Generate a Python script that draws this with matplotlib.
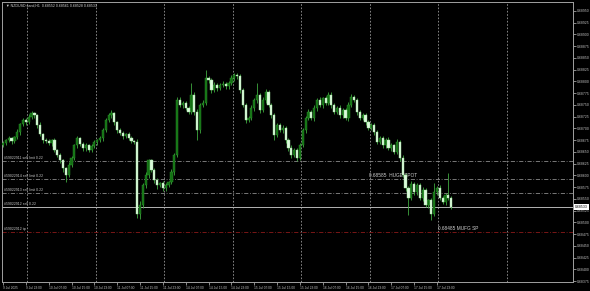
import numpy as np
import matplotlib
matplotlib.use("Agg")
import matplotlib.pyplot as plt

plt.rcParams['font.family'] = ['Liberation Sans', 'DejaVu Sans']

title = "\u25bc NZDUSD.sand,H1  0.68552 0.68561 0.68528 0.68533"

# H1 closes in points (1e-5)
first_open = 68665
close_pts = [
    68669, 68675, 68679, 68673, 68681, 68692, 68709, 68718, 68713, 68724,
    68732, 68728, 68707, 68688, 68675, 68673, 68669, 68675, 68654, 68643,
    68632, 68615, 68601, 68622, 68637, 68664, 68679, 68667, 68658, 68664,
    68654, 68662, 68671, 68675, 68679, 68696, 68718, 68728, 68732, 68713,
    68696, 68690, 68684, 68688, 68679, 68673, 68671, 68518, 68537, 68579,
    68601, 68632, 68611, 68590, 68579, 68584, 68573, 68579, 68586, 68607,
    68643, 68760, 68750, 68754, 68743, 68735, 68771, 68735, 68696, 68750,
    68754, 68807, 68803, 68781, 68792, 68786, 68792, 68794, 68790, 68796,
    68807, 68813, 68811, 68781, 68750, 68718, 68722, 68743, 68760, 68771,
    68739, 68760, 68777, 68750, 68728, 68686, 68707, 68696, 68701, 68675,
    68658, 68643, 68654, 68637, 68664, 68696, 68722, 68735, 68722, 68743,
    68760, 68750, 68764, 68754, 68771, 68750, 68735, 68743, 68728, 68739,
    68722, 68750, 68767, 68760, 68735, 68722, 68728, 68713, 68701, 68707,
    68692, 68671, 68679, 68664, 68675, 68658, 68664, 68650, 68671, 68637,
    68601, 68573, 68552, 68581, 68564, 68579, 68552, 68569, 68537, 68547,
    68518, 68564, 68573, 68552, 68543, 68558, 68552, 68533,
]
# wick lengths above / below the body, points
up_wick = [
    4, 3, 5, 3, 4, 6, 3, 5, 4, 6,
    5, 4, 3, 6, 3, 4, 5, 3, 4, 3,
    5, 3, 4, 6, 5, 4, 5, 3, 4, 5,
    3, 4, 5, 3, 6, 4, 5, 6, 8, 4,
    3, 5, 4, 3, 5, 4, 3, 6, 8, 5,
    6, 4, 3, 5, 4, 3, 5, 4, 3, 6,
    5, 6, 8, 5, 4, 5, 25, 6, 7, 5,
    6, 17, 5, 4, 6, 5, 4, 6, 5, 4,
    6, 5, 4, 5, 6, 4, 5, 6, 5, 25,
    5, 6, 7, 4, 5, 6, 5, 4, 6, 5,
    4, 6, 5, 4, 6, 5, 4, 7, 5, 6,
    5, 6, 4, 5, 7, 6, 5, 4, 6, 5,
    4, 6, 7, 5, 4, 5, 6, 4, 5, 4,
    5, 4, 6, 5, 4, 6, 5, 4, 7, 5,
    6, 4, 5, 7, 6, 5, 4, 6, 5, 4,
    6, 20, 5, 6, 5, 4, 47, 5,
]
dn_wick = [
    4, 5, 3, 6, 4, 3, 5, 4, 6, 3,
    4, 5, 6, 4, 5, 3, 4, 6, 5, 4,
    6, 8, 15, 5, 4, 3, 5, 4, 6, 5,
    4, 5, 3, 6, 4, 5, 3, 4, 5, 6,
    5, 4, 6, 5, 4, 3, 5, 9, 10, 6,
    5, 6, 4, 5, 7, 4, 6, 5, 4, 5,
    6, 4, 5, 6, 4, 5, 4, 6, 21, 5,
    4, 5, 6, 5, 4, 6, 5, 4, 5, 6,
    4, 5, 6, 5, 4, 6, 5, 4, 5, 6,
    5, 4, 6, 5, 6, 11, 5, 4, 6, 5,
    6, 5, 4, 6, 5, 4, 6, 5, 4, 6,
    5, 4, 6, 5, 4, 6, 5, 4, 6, 5,
    4, 6, 5, 4, 6, 5, 4, 6, 5, 4,
    6, 5, 4, 6, 5, 4, 6, 5, 4, 6,
    5, 6, 37, 5, 6, 5, 4, 6, 5, 7,
    13, 5, 6, 5, 4, 6, 5, 4,
]

time_bars = [0, 8, 16, 24, 32, 40, 48, 56, 64, 72, 80, 88, 96, 104, 112,
             120, 128, 136, 144, 152]
time_labels = ["9 Jul 2025", "9 Jul 23:00", "10 Jul 07:00", "10 Jul 15:00",
               "10 Jul 23:00", "11 Jul 07:00", "11 Jul 15:00", "11 Jul 23:00",
               "14 Jul 07:00", "14 Jul 15:00", "14 Jul 23:00", "15 Jul 07:00",
               "15 Jul 15:00", "15 Jul 23:00", "16 Jul 07:00", "16 Jul 15:00",
               "16 Jul 23:00", "17 Jul 07:00", "17 Jul 15:00", "17 Jul 23:00"]
day_start_bars = [9, 33, 57, 81, 105, 129, 153, 177]

price_ticks = [0.68950, 0.68925, 0.68900, 0.68875, 0.68850, 0.68825, 0.68800,
               0.68775, 0.68750, 0.68725, 0.68700, 0.68675, 0.68650, 0.68625,
               0.68600, 0.68575, 0.68550, 0.68525, 0.68500, 0.68475, 0.68450,
               0.68425, 0.68400, 0.68375]

order_levels = [0.68630, 0.68592, 0.68562]
order_labels = ["#59022911 sell limit 0.22", "#59022914 sell limit 0.22",
                "#59022913 sell limit 0.22"]
sell_label = "#59022912 sell 0.22"
tp_level = 0.68479
tp_label = "#59022912 tp"
notes = [("0.68585  HUGE SPOT", 128.2, 0.68592), ("0.68485 MUFG SP", 152.4, 0.68479)]

close = np.array(close_pts) / 1e5
opens = np.concatenate([[first_open / 1e5], close[:-1]])
high = np.maximum(opens, close) + np.array(up_wick) / 1e5
low = np.minimum(opens, close) - np.array(dn_wick) / 1e5
x = np.arange(len(close))
bull = close >= opens

fig = plt.figure(figsize=(5.9, 2.91), dpi=100, facecolor='black')
ax = fig.add_axes([2 / 590, 1 - 282 / 291, 571 / 590, 280 / 291])
ax.set_facecolor('black')

# day separators
ax.vlines(np.array(day_start_bars) - 0.5, 0, 1, transform=ax.get_xaxis_transform(),
          colors='#9a9a9a', lw=0.6, linestyles=(0, (2, 2)))

ax.vlines(x, low, high, colors='#3fa83f', lw=0.6, zorder=3)
body_lo = np.minimum(opens, close)
body_h = np.maximum(np.abs(close - opens), 0.000012)
ax.bar(x[bull], body_h[bull], bottom=body_lo[bull], width=0.78,
       color='#136f13', edgecolor='#2c9a2c', lw=0.3, zorder=4)
ax.bar(x[~bull], body_h[~bull], bottom=body_lo[~bull], width=0.78,
       color='#dcfadc', edgecolor='#9ede9e', lw=0.3, zorder=4)

# order lines
for lvl, lab in zip(order_levels, order_labels):
    ax.axhline(lvl, color='#8a8a8a', lw=0.6, ls=(0, (5, 2, 1, 2)), zorder=2)
    ax.text(0.3, lvl + 0.00002, lab, color='#c8c8c8', fontsize=2.5, va='bottom')
ax.axhline(close[-1], color='#b4b4b4', lw=0.7, zorder=2)
ax.text(0.3, close[-1] + 0.00002, sell_label, color='#c8c8c8', fontsize=2.5, va='bottom')
ax.axhline(tp_level, color='#8b1a1a', lw=0.6, ls=(0, (5, 2, 1, 2)), zorder=2)
ax.text(0.3, tp_level + 0.00002, tp_label, color='#c8c8c8', fontsize=2.5, va='bottom')
for txt, bx, lvl in notes:
    ax.text(bx, lvl + 0.00003, txt, color='#d0d0d0', fontsize=3.4, va='bottom')

ax.text(4 / 571, 1 - 2 / 280, title, transform=ax.transAxes, color='#d0d0d0',
        fontsize=2.6, va='top', ha='left')

ax.set_xlim(-0.35, 199.65)
ax.set_ylim(0.683734, 0.689691)

ax.yaxis.tick_right()
ax.set_yticks(price_ticks)
ax.set_yticklabels([f"{p:.5f}" for p in price_ticks])
ax.set_xticks(time_bars)
ax.set_xticklabels(time_labels)
for t in ax.get_xticklabels():
    t.set_ha('left')
ax.tick_params(axis='y', colors='#c0c0c0', labelsize=2.5, length=2, width=0.5, pad=1)
ax.tick_params(axis='x', colors='#c0c0c0', labelsize=2.3, length=2, width=0.5, pad=1)

# bid price box
ax.text(1.004, close[-1], f"{close[-1]:.5f}", transform=ax.get_yaxis_transform(),
        fontsize=2.5, color='black', va='center', ha='left',
        bbox=dict(boxstyle='square,pad=0.25', fc='white', ec='white', lw=0))

for s in ax.spines.values():
    s.set_color('#a0a0a0')
    s.set_linewidth(0.7)

fig.savefig('out.png', dpi=100, facecolor='black')
